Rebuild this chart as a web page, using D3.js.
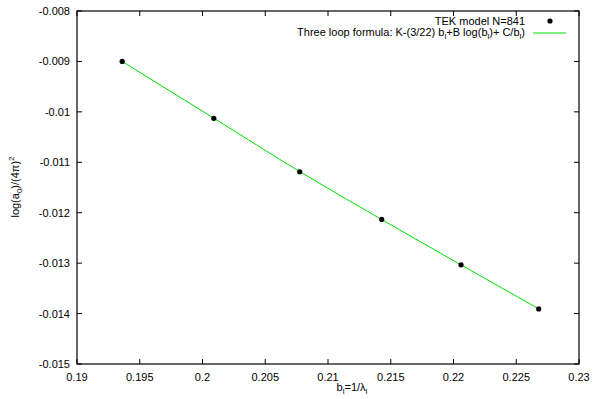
<!DOCTYPE html>
<html>
<head>
<meta charset="utf-8">
<script src="https://cdn.jsdelivr.net/npm/d3@7"></script>
<style>
  body { margin: 0; background: #fff; }
  text { font-family: "Liberation Sans", Arial, sans-serif; font-size: 11px; fill: #000; }
</style>
</head>
<body>
<svg id="chart" width="594" height="399"></svg>
<script>
// data
const bValues = [0.1936, 0.2009, 0.20775, 0.21428, 0.2206, 0.22679];
const tekValues = [-0.00900, -0.010129, -0.011188, -0.012133, -0.013034, -0.013907];
const fitValues = [-0.00900, -0.010125, -0.011185, -0.012135, -0.013035, -0.013907];
const xTicks = [0.19, 0.195, 0.2, 0.205, 0.21, 0.215, 0.22, 0.225, 0.23];
const yTicks = [-0.008, -0.009, -0.01, -0.011, -0.012, -0.013, -0.014, -0.015];

const svg = d3.select("#chart");
const m = {left: 77, top: 11, right: 594 - 579, bottom: 399 - 364};
const w = 594 - m.left - m.right, h = 399 - m.top - m.bottom;

const x = d3.scaleLinear().domain([0.19, 0.23]).range([m.left, m.left + w]);
const y = d3.scaleLinear().domain([-0.015, -0.008]).range([m.top + h, m.top]);

// plain hyphen minus like gnuplot
const fmt = t => String(t);

const g = svg.append("g");

// ticks, gnuplot style: inward on all four sides
const tl = 5;
xTicks.forEach(t => {
    g.append("line").attr("x1", x(t)).attr("x2", x(t)).attr("y1", m.top + h).attr("y2", m.top + h - tl).attr("stroke", "#000");
    g.append("line").attr("x1", x(t)).attr("x2", x(t)).attr("y1", m.top).attr("y2", m.top + tl).attr("stroke", "#000");
    g.append("text").attr("x", x(t)).attr("y", m.top + h + 17).attr("text-anchor", "middle").text(fmt(t));
});
yTicks.forEach(t => {
    g.append("line").attr("x1", m.left).attr("x2", m.left + tl).attr("y1", y(t)).attr("y2", y(t)).attr("stroke", "#000");
    g.append("line").attr("x1", m.left + w).attr("x2", m.left + w - tl).attr("y1", y(t)).attr("y2", y(t)).attr("stroke", "#000");
    g.append("text").attr("x", m.left - 7).attr("y", y(t) + 4).attr("text-anchor", "end").text(fmt(t));
});

// frame
g.append("rect").attr("x", m.left).attr("y", m.top).attr("width", w).attr("height", h)
    .attr("fill", "none").attr("stroke", "#000").attr("stroke-width", 1.2);

// fit line
const line = d3.line().x((d, i) => x(bValues[i])).y(d => y(d)).curve(d3.curveMonotoneX);
g.append("path").datum(fitValues).attr("d", line).attr("fill", "none").attr("stroke", "#00e000").attr("stroke-width", 1);

// data points
g.selectAll("circle.pt").data(tekValues).enter().append("circle")
    .attr("class", "pt")
    .attr("cx", (d, i) => x(bValues[i])).attr("cy", d => y(d)).attr("r", 2.6).attr("fill", "#000");

// legend
const lx = 525;
g.append("text").attr("x", lx).attr("y", 25).attr("text-anchor", "end").text("TEK model N=841");
g.append("circle").attr("cx", 550).attr("cy", 21).attr("r", 2.6).attr("fill", "#000");
const lt = g.append("text").attr("x", lx).attr("y", 36).attr("text-anchor", "end");
lt.append("tspan").text("Three loop formula: K-(3/22) b");
lt.append("tspan").attr("dy", 3).style("font-size", "8px").text("l");
lt.append("tspan").attr("dy", -3).text("+B log(b");
lt.append("tspan").attr("dy", 3).style("font-size", "8px").text("l");
lt.append("tspan").attr("dy", -3).text(")+ C/b");
lt.append("tspan").attr("dy", 3).style("font-size", "8px").text("l");
lt.append("tspan").attr("dy", -3).text(")");
g.append("line").attr("x1", 533).attr("x2", 566).attr("y1", 33).attr("y2", 33).attr("stroke", "#00e000");

// axis labels
const xl = g.append("text").attr("x", 352).attr("y", 391).attr("text-anchor", "middle");
xl.append("tspan").text("b");
xl.append("tspan").attr("dy", 3).style("font-size", "8px").text("l");
xl.append("tspan").attr("dy", -3).text("=1/λ");
xl.append("tspan").attr("dy", 3).style("font-size", "8px").text("l");

const yl = g.append("text").attr("transform", "translate(19,187) rotate(-90)").attr("text-anchor", "middle");
yl.append("tspan").text("log(a");
yl.append("tspan").attr("dy", 3).style("font-size", "8px").text("0");
yl.append("tspan").attr("dy", -3).text(")/(4π)");
yl.append("tspan").attr("dy", -5).style("font-size", "8px").text("2");
</script>
</body>
</html>
